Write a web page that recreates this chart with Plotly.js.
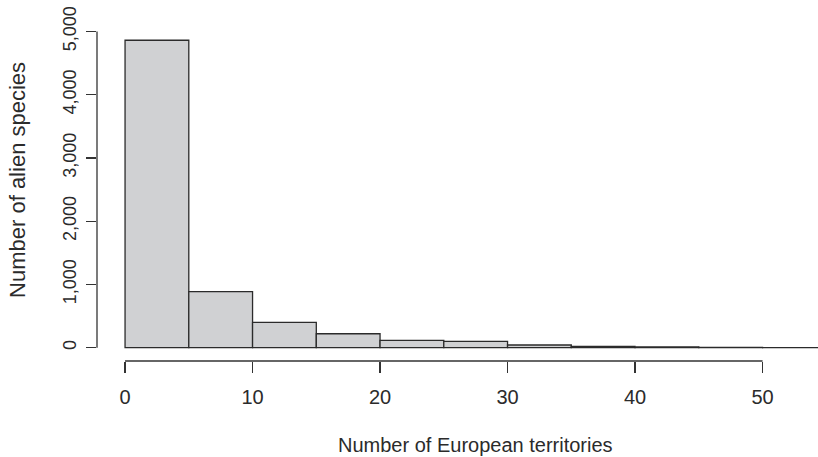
<!DOCTYPE html>
<html>
<head>
<meta charset="utf-8">
<script src="https://cdn.plot.ly/plotly-3.0.1.min.js"></script>
<style>html,body{margin:0;padding:0;background:#fff}#chart{width:818px;height:457px}</style>
</head>
<body>
<div id="chart"></div>
<script>
// Histogram bins (number of European territories) and counts of alien species
const binStarts = [0, 5, 10, 15, 20, 25, 30, 35, 40, 45, 50, 55];
const counts = [4860, 885, 401, 221, 117, 101, 43, 20, 14, 4, 2, 1];
const binWidth = 5;
const xTickVals = [0, 10, 20, 30, 40, 50];
const yTickVals = [0, 1000, 2000, 3000, 4000, 5000];
const yTickText = ["0", "1,000", "2,000", "3,000", "4,000", "5,000"];
const xTitle = "Number of European territories";
const yTitle = "Number of alien species";

const axisColor = "#333333";
const textColor = "#2b2b2b";
const fontFamily = "Liberation Sans, Arial, Helvetica, sans-serif";

const trace = {
  type: "bar",
  x: binStarts.map(s => s + binWidth / 2),
  y: counts,
  width: binStarts.map(() => binWidth),
  marker: { color: "#d0d1d3", line: { color: "#2b2b2b", width: 1.3 } },
  hoverinfo: "x+y"
};

const layout = {
  width: 818, height: 457,
  margin: { l: 97, r: 0, t: 20, b: 96, pad: 0 },
  paper_bgcolor: "#ffffff", plot_bgcolor: "#ffffff",
  showlegend: false,
  bargap: 0,
  font: { family: fontFamily, color: textColor, size: 19 },
  xaxis: {
    range: [-2.2, 54.35],
    showgrid: false, zeroline: false, showline: false,
    tickmode: "array", tickvals: xTickVals,
    ticks: "outside", ticklen: 11, tickwidth: 1.3, tickcolor: axisColor,
    tickfont: { size: 20, color: textColor },
    ticklabelstandoff: 7
  },
  yaxis: {
    range: [-210, 5180],
    showgrid: false, zeroline: false, showline: false,
    tickmode: "array", tickvals: yTickVals, ticktext: yTickText,
    ticks: "outside", ticklen: 10, tickwidth: 1.3, tickcolor: axisColor,
    tickangle: -90,
    tickfont: { size: 18, color: textColor },
    ticklabelstandoff: 3
  },
  shapes: [
    { type: "line", xref: "x", yref: "paper", x0: xTickVals[0], x1: xTickVals[xTickVals.length - 1], y0: 0, y1: 0,
      line: { color: axisColor, width: 1.3 } },
    { type: "line", xref: "paper", yref: "y", x0: 0, x1: 0, y0: yTickVals[0], y1: yTickVals[yTickVals.length - 1],
      line: { color: axisColor, width: 1.3 } }
  ],
  annotations: [
    { text: xTitle, xref: "x", yref: "paper", x: 27.5, y: 0, yanchor: "middle", xanchor: "center",
      yshift: -(445 - 361), showarrow: false, font: { size: 20, color: textColor } },
    { text: yTitle, xref: "paper", yref: "paper", x: 0, y: 0.531, xanchor: "center", yanchor: "middle",
      xshift: -(97 - 18), textangle: -90, showarrow: false, font: { size: 22, color: textColor } }
  ]
};

Plotly.newPlot("chart", [trace], layout, { displayModeBar: false, staticPlot: true });
</script>
</body>
</html>
